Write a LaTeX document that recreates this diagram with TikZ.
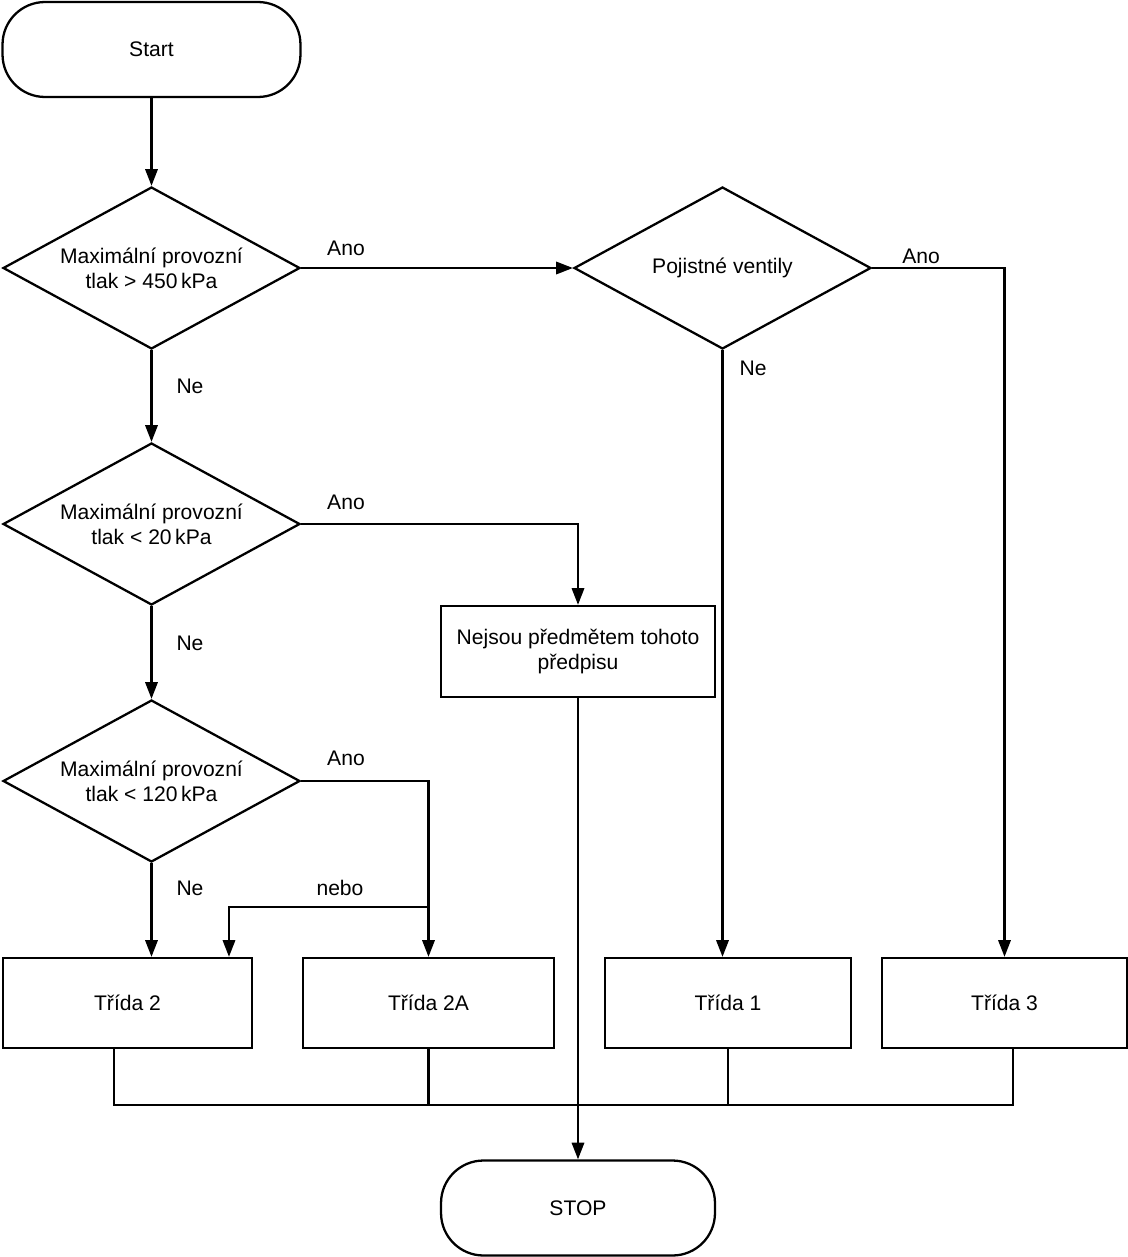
\documentclass[tikz,border=0pt]{standalone}
\usepackage{fontspec}
\setmainfont{Liberation Sans}
\usetikzlibrary{arrows.meta,positioning,shapes.geometric}
\tikzset{
  spoj/.style={line width=1.3pt},
  sipka/.style={spoj,-{Triangle[length=9.5pt,width=7pt]}},
  krajni/.style={draw,line width=1.3pt,rounded corners=0.85cm,minimum width=#1,minimum height=1.9cm,inner sep=0pt},
  rozhod/.style={draw,line width=1.3pt,diamond,aspect=1.83,minimum width=5.94cm,minimum height=3.24cm,inner sep=0pt,align=center},
  trida/.style={draw,line width=1.3pt,minimum width=#1,minimum height=1.8cm,inner sep=0pt,align=center},
  popis/.style={inner sep=1pt}
}

\begin{document}
\begin{tikzpicture}[x=0.02cm,y=-0.02cm,font=\fontsize{12}{14.4}\selectfont]
  \useasboundingbox (0,0) rectangle (1128,1257);
  % uzly
  \node[krajni=5.96cm] (start) at (151.5,49.5) {Start};
  \node[rozhod] (d1) at (151.5,268) {Maximální provozní\\tlak > 450\,kPa};
  \node[rozhod] (pv) at (722.5,268) {\raisebox{-4pt}{Pojistné ventily}};
  \node[rozhod] (d2) at (151.5,524) {Maximální provozní\\tlak < 20\,kPa};
  \node[rozhod] (d3) at (151.5,781) {Maximální provozní\\tlak < 120\,kPa};
  \node[trida=5.48cm,minimum height=1.82cm] (mimo) at (578,651.5) {Nejsou předmětem tohoto\\předpisu};
  \node[trida=4.98cm] (t2) at (127.5,1003) {Třída 2};
  \node[trida=5.02cm] (t2a) at (428.5,1003) {Třída 2A};
  \node[trida=4.92cm] (t1) at (728,1003) {Třída 1};
  \node[trida=4.90cm] (t3) at (1004.5,1003) {Třída 3};
  \node[krajni=5.48cm] (stop) at (578,1208) {STOP};
  % popisky
  \node[popis] (ano1) at (346,248) {Ano};
  \node[popis] (ne1) at (190,386) {Ne};
  \node[popis] (ano2) at (921,256) {Ano};
  \node[popis] (ne2) at (753,368) {Ne};
  \node[popis] (ano3) at (346,502) {Ano};
  \node[popis] (ne3) at (190,643) {Ne};
  \node[popis] (ano4) at (346,758) {Ano};
  \node[popis] (ne4) at (190,888) {Ne};
  \node[popis] (nebo) at (340,888) {nebo};
  % spoje
  \coordinate (odb) at (429,907);
  \coordinate (sber) at (0,1105);
  \coordinate (t2p) at ([xshift=-0.27cm]t2.south);
  \coordinate (t3p) at ([xshift=0.17cm]t3.south);
  \draw[sipka] (start) -- (d1);
  \draw[sipka] (d1.east) -- (pv.west);
  \draw[sipka] (d1) -- (d2);
  \draw[sipka] (d2) -- (d3);
  \draw[sipka] (d2.east) -| (mimo.north);
  \draw[sipka] (d3.east) -| (t2a.north);
  \draw[sipka] (odb) -| ([xshift=2.03cm]t2.north);
  \draw[sipka] (d3.south) -- (d3.south |- t2.north);
  \draw[sipka] (pv.east) -| (t3.north);
  \draw[sipka] (pv.south) -- (pv.south |- t1.north);
  \draw[sipka] (mimo) -- (stop);
  \draw[spoj] (t2p) |- (sber -| t3p) -- (t3p);
  \draw[spoj] (t2a.south) -- (t2a.south |- sber);
  \draw[spoj] (t1.south) -- (t1.south |- sber);
\end{tikzpicture}
\end{document}
